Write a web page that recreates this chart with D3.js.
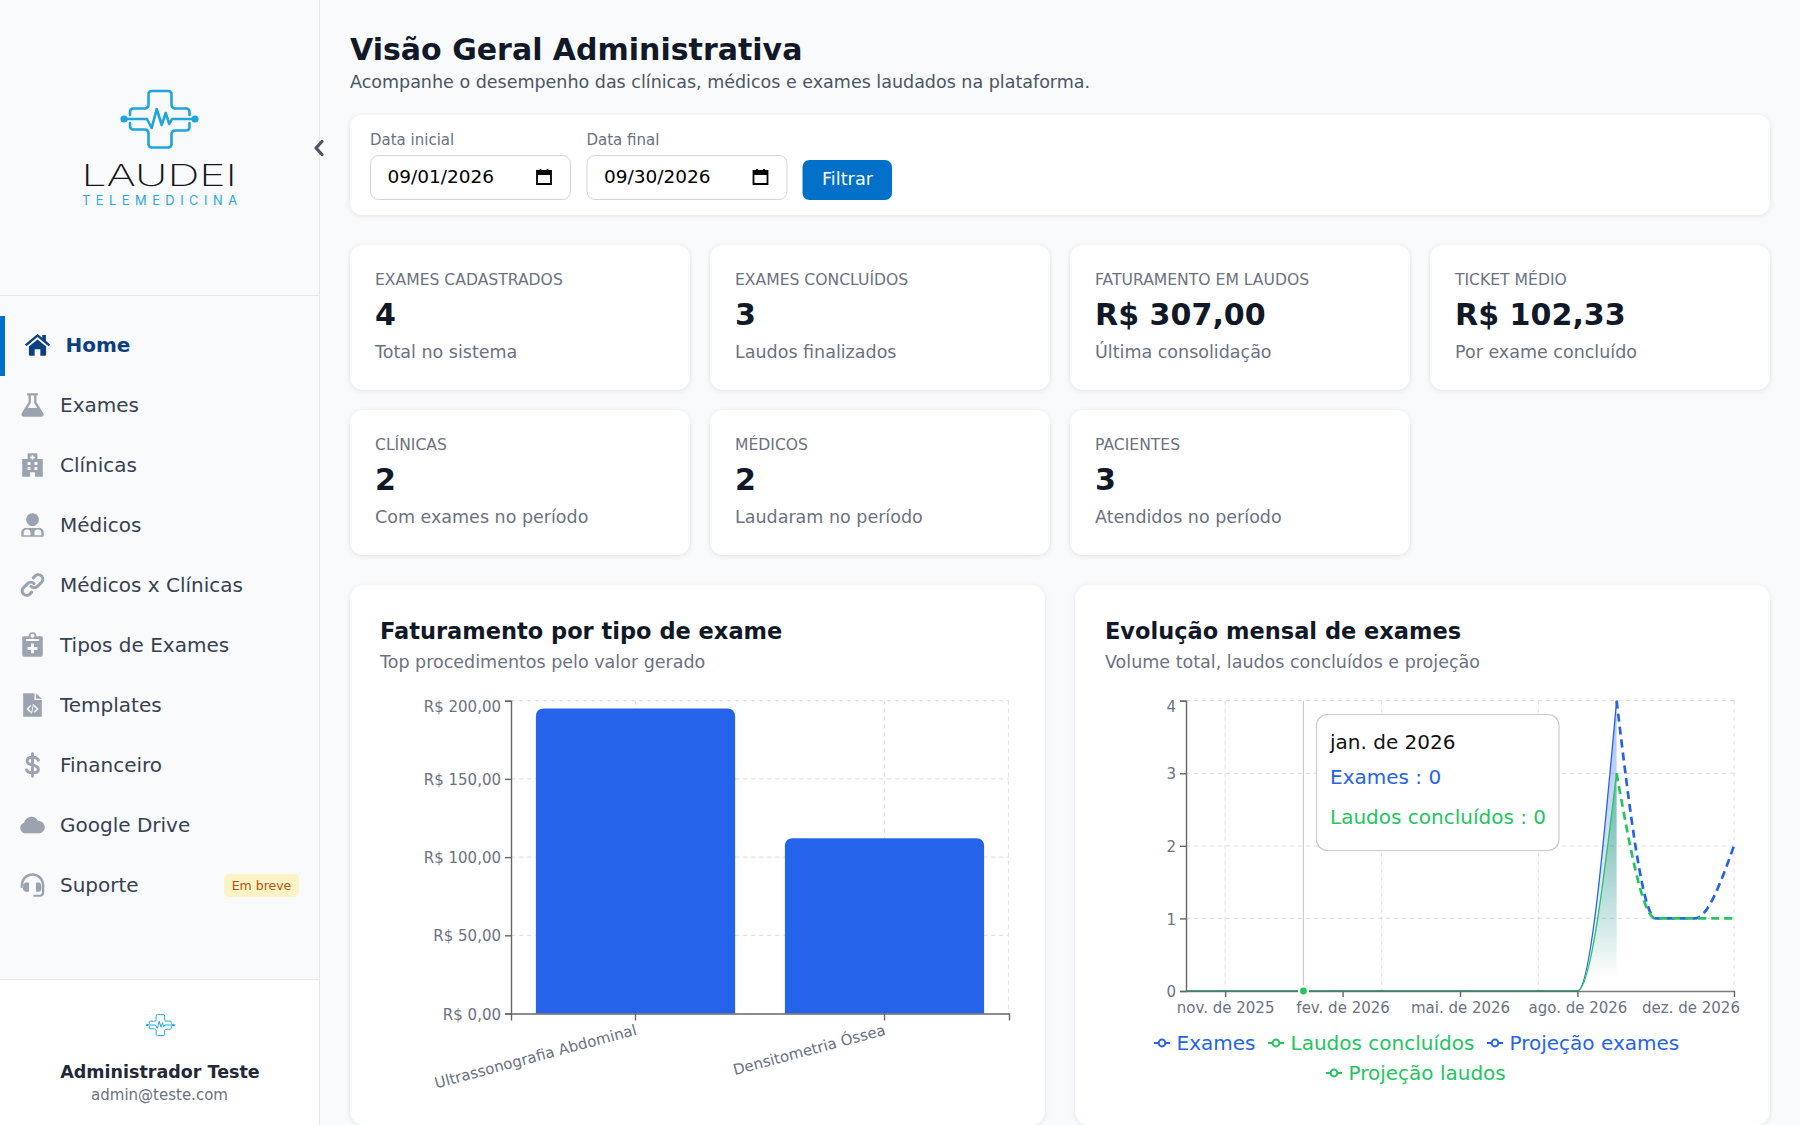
<!DOCTYPE html>
<html lang="pt-BR">
<head>
<meta charset="utf-8">
<title>Visão Geral Administrativa</title>
<script src="https://cdn.jsdelivr.net/npm/d3@7/dist/d3.min.js"></script>
<style>
html,body{margin:0;padding:0;background:#f8fafc;overflow:hidden}
svg{display:block;font-family:"DejaVu Sans",sans-serif}
.card{fill:#fff;filter:drop-shadow(0 1.5px 2.5px rgba(15,23,42,.10))}
</style>
</head>
<body>
<svg id="page" width="1800" height="1125" viewBox="0 0 1800 1125"></svg>
<script>
// ---- data ----
const navLabels = ["Home","Exames","Clínicas","Médicos","Médicos x Clínicas","Tipos de Exames","Templates","Financeiro","Google Drive","Suporte"];
const navIcons  = ["home","flask","hospital","doctor","link","clipboard","file","dollar","cloud","headset"];
const kpiLabels = ["EXAMES CADASTRADOS","EXAMES CONCLUÍDOS","FATURAMENTO EM LAUDOS","TICKET MÉDIO","CLÍNICAS","MÉDICOS","PACIENTES"];
const kpiValues = ["4","3","R$ 307,00","R$ 102,33","2","2","3"];
const kpiNotes  = ["Total no sistema","Laudos finalizados","Última consolidação","Por exame concluído","Com exames no período","Laudaram no período","Atendidos no período"];

const examTypes  = ["Ultrassonografia Abdominal","Densitometria Óssea"];
const examRevenue = [195,112];
const revenueTicks = [0,50,100,150,200];

const months = ["out. de 2025","nov. de 2025","dez. de 2025","jan. de 2026","fev. de 2026","mar. de 2026","abr. de 2026","mai. de 2026","jun. de 2026","jul. de 2026","ago. de 2026","set. de 2026","out. de 2026","nov. de 2026","dez. de 2026"];
const monthTicks = ["nov. de 2025","fev. de 2026","mai. de 2026","ago. de 2026","dez. de 2026"];
const monthGrid  = ["nov. de 2025","mar. de 2026","jul. de 2026","dez. de 2026"];
const exames      = [0,0,0,0,0,0,0,0,0,0,0,4,null,null,null];
const laudos      = [0,0,0,0,0,0,0,0,0,0,0,3,null,null,null];
const projExames  = [null,null,null,null,null,null,null,null,null,null,null,4,1,1,2];
const projLaudos  = [null,null,null,null,null,null,null,null,null,null,null,3,1,1,1];
const countTicks = [0,1,2,3,4];
const activeMonth = "jan. de 2026";

const BLUE="#2563eb", GREEN="#22c55e", INK="#111827", MUTED="#6b7280", GRID="#dfe2e7", AXIS="#666", BRAND="#0070c9", CYAN="#1fa5d8";

const svg = d3.select("#page");
const defs = svg.append("defs");
function txt(p,s,x,y,size,fill,opt={}){
  return p.append("text").attr("x",x).attr("y",y).attr("font-size",size).attr("fill",fill)
    .attr("font-weight",opt.weight||null).attr("text-anchor",opt.anchor||null).text(s);
}

// ---- sidebar ----
svg.append("rect").attr("width",1800).attr("height",1125).attr("fill","#f8fafc");
svg.append("rect").attr("x",0).attr("y",979).attr("width",320).attr("height",146).attr("fill","#fff");
svg.append("line").attr("x1",319.5).attr("x2",319.5).attr("y1",0).attr("y2",1125).attr("stroke","#e5e7eb");
svg.append("line").attr("x1",0).attr("x2",320).attr("y1",295.5).attr("y2",295.5).attr("stroke","#e5e7eb");
svg.append("line").attr("x1",0).attr("x2",320).attr("y1",979.5).attr("y2",979.5).attr("stroke","#e5e7eb");

function logoMark(p){
  const g=p.append("g").attr("fill","none").attr("stroke",CYAN).attr("stroke-width",2.6).attr("stroke-linejoin","round").attr("stroke-linecap","round");
  g.append("path").attr("d","M130 115 v-3 q0-3.5 3.5-3.5 h11 q4 0 4-4 V94.500 q0-3.5 3.5-3.5 h16 q3.5 0 3.5 3.5 V104.500 q0 4 4 4 h10.500 q3.500 0 3.500 3.500 v3");
  g.append("path").attr("d","M130 123 v3 q0 3.500 3.500 3.500 h11 q4 0 4 4 V144 q0 3.500 3.500 3.500 h16 q3.500 0 3.500-3.500 V134.500 q0-4 4-4 h10.500 q3.500 0 3.500-3.500 v-4");
  g.append("path").attr("d","M124 119 H147 L151.700 128 L156.700 109 L161.700 125 L165.700 113 L169.300 124 L172 119 H195");
  g.append("circle").attr("cx",124).attr("cy",119).attr("r",2.3).attr("fill",CYAN);
  g.append("circle").attr("cx",195).attr("cy",119).attr("r",2.3).attr("fill",CYAN);
  return g;
}
logoMark(svg);
txt(svg,"LAUDEI",81.5,186,29.5,"#15151a",{}).attr("font-family","Inter").attr("font-weight",250).attr("textLength",155.5).attr("lengthAdjust","spacingAndGlyphs");
txt(svg,"TELEMEDICINA",82,205,12.8,"#2aa8dc",{}).attr("font-family","Inter").attr("font-weight",400).attr("textLength",155);
svg.append("path").attr("d","M322 141.500 L316 148 L322 154.500").attr("fill","none").attr("stroke","#4b5563").attr("stroke-width",3.2).attr("stroke-linecap","round").attr("stroke-linejoin","round");

const iconPaths = {
  home:{d:"M0 11.500 L12 1.500 L16.500 5.200 V2.500 H20 V8 L24 11.500 L22.600 13.200 L12 4.500 L1.400 13.200Z M3.800 13.500 L12 6.800 L20.200 13.500 V21 Q20.200 22.300 19 22.300 H14.700 V16 H9.300 V22.300 H5 Q3.800 22.300 3.800 21Z"},
  flask:{d:"M6.500 0 H17.500 V2.400 H16 V9 L23 20.500 C24 22.500 22.800 24 20.700 24 H3.300 C1.200 24 0 22.500 1 20.500 L8 9 V2.400 H6.500Z M10.300 2.400 V9.700 L7.200 15 H16.800 L13.700 9.700 V2.400Z"},
  hospital:{d:"M1.500 6 H7 V1 Q7 0 8 0 H16 Q17 0 17 1 V6 H22.500 V24 H14.500 V19.500 H9.500 V24 H1.500Z M11 2 V3.500 H9.500 V5 H11 V6.500 H13 V5 H14.500 V3.500 H13 V2Z M7 9 V12 H10 V9Z M14 9 V12 H17 V9Z M7 14 V17 H10 V14Z M14 14 V17 H17 V14Z"},
  doctor:{d:"M12 0 A6.500 6.500 0 1 1 11.990 0Z M5 15 H19 C22 15 23.500 17.500 23.500 20 V23 Q23.500 24 22.500 24 H1.500 Q0.500 24 0.500 23 V20 C0.500 17.500 2 15 5 15Z M3 22.500 H10 V20 A3.500 3.500 0 0 0 3 20Z M14 22.500 H21 V20 A3.500 3.500 0 0 0 14 20Z"},
  link:{stroke:"M10.500 13.500 a4.600 4.600 0 0 0 6.500 0 l4.300 -4.300 a4.600 4.600 0 0 0 -6.500 -6.500 l-2 2 M13.500 10.500 a4.600 4.600 0 0 0 -6.500 0 l-4.300 4.300 a4.600 4.600 0 0 0 6.500 6.500 l2 -2"},
  clipboard:{d:"M3 3 H8 A4 4 0 0 1 16 3 H21 Q22.500 3 22.500 4.500 V22 Q22.500 24 20.500 24 H3.500 Q1.500 24 1.500 22 V4.500 Q1.500 3 3 3Z M10 2.500 A2 2 0 0 0 14 2.500 A2 2 0 0 0 10 2.500Z M5.500 6 V8 H18.500 V6Z M10.500 10.500 V14 H7 V17 H10.500 V20.500 H13.500 V17 H17 V14 H13.500 V10.500Z"},
  file:{d:"M2.500 0 H14 V7 H21.500 V24 H2.500Z M15.500 0 L21.500 5.500 H15.500Z M9.800 12 L5.800 16 L9.800 20 L10.800 19 L7.800 16 L10.800 13Z M14.200 12 L13.200 13 L16.200 16 L13.200 19 L14.200 20 L18.200 16Z M12.500 11 L10.500 21 H11.500 L13.500 11Z"},
  dollar:{stroke:"M18 7 C17 4.500 15 4 12 4 C8.500 4 6.500 5.500 6.500 8 C6.500 14 18 10 18 16.500 C18 19 15.500 20 12 20 C9 20 7 19.500 6 17 M12 0.500 V23.500"},
  cloud:{d:"M5.500 20.500 C1.800 20.500 -0.500 18 -0.500 15 C-0.500 12.200 1.200 10.200 3.500 9.700 C4 6.200 7.500 3.500 11 3.500 C14.200 3.500 16.700 5.500 17.800 8 C21.500 8 24.500 10.800 24.500 14.300 C24.500 17.800 21.800 20.500 18.500 20.500Z"},
  headset:{d:"M12 0 C5 0 0 5.500 0 12 V15 H2.500 V12 C2.500 7 6.800 2.500 12 2.500 C17.200 2.500 21.500 7 21.500 12 V20 C21.500 21.500 20.500 22 19 22 H13 V24 H19.500 C22 24 24 22.500 24 20 V12 C24 5.500 19 0 12 0Z M5.500 9.500 H7.500 Q8.500 9.500 8.500 10.500 V18 Q8.500 19 7.500 19 H5.500 C3.500 19 2 17 2 14.500 C2 12 3.500 9.500 5.500 9.500Z M16.500 9.500 H18.500 C20.500 9.500 21 12 21 14.500 C21 17 20.500 19 18.500 19 H16.500 Q15.500 19 15.500 18 V10.500 Q15.500 9.500 16.500 9.500Z"}
};
const navY = d3.scalePoint().domain(navLabels).range([345,885]);
svg.append("rect").attr("x",0).attr("y",316).attr("width",5).attr("height",60).attr("fill",BRAND);
const navG = svg.append("g").selectAll("g").data(navLabels).join("g").attr("transform",d=>`translate(0,${navY(d)})`);
navG.each(function(d,i){
  const g=d3.select(this), ic=iconPaths[navIcons[i]], active=i===0;
  const col=active?"#0c3f80":"#9ca3af";
  const w=g.append("g").attr("transform",`translate(${active?37.5:32.5},0) scale(${active?1.05:0.98}) translate(-12,-12)`);
  if(ic.d) w.append("path").attr("d",ic.d).attr("fill",col).attr("fill-rule","evenodd");
  if(ic.stroke) w.append("path").attr("d",ic.stroke).attr("fill","none").attr("stroke",col).attr("stroke-width",navIcons[i]==="link"?3.2:3).attr("stroke-linecap","round");
  txt(g,d,active?65.5:60,7,20,active?"#0c3f80":"#374151",{weight:active?700:400});
});
svg.append("rect").attr("x",224).attr("y",874).attr("width",75).attr("height",23).attr("rx",5).attr("fill","#fef3c7");
txt(svg,"Em breve",261.500,890,12.500,"#b45309",{anchor:"middle"});

svg.append("g").attr("transform","translate(160,1025) scale(.37) translate(-159,-119)").call(logoMark);
txt(svg,"Administrador Teste",160,1077.500,17.500,"#1f2937",{weight:700,anchor:"middle"});
txt(svg,"admin@teste.com",159.500,1100,15,MUTED,{anchor:"middle"});

// ---- header + filter ----
txt(svg,"Visão Geral Administrativa",350,60,30,"#111827",{weight:700});
txt(svg,"Acompanhe o desempenho das clínicas, médicos e exames laudados na plataforma.",350,87.500,17.500,"#4b5563");
svg.append("rect").attr("class","card").attr("x",350).attr("y",115).attr("width",1420).attr("height",100).attr("rx",12);
const dateLabels=["Data inicial","Data final"], dateValues=["09/01/2026","09/30/2026"];
const dateX=d3.scaleOrdinal().domain(dateLabels).range([370,586.500]);
dateLabels.forEach((l,i)=>{
  const x=dateX(l);
  txt(svg,l,x,145,15,MUTED);
  svg.append("rect").attr("x",x+.5).attr("y",155.500).attr("width",200).attr("height",44).attr("rx",8).attr("fill","#fff").attr("stroke","#d1d5db");
  txt(svg,dateValues[i],x+17.5,182.500,18.500,"#000");
  const c=svg.append("g").attr("transform",`translate(${x+167},169)`);
  c.append("path").attr("d","M0 2 H14 V15 H0Z").attr("fill","none").attr("stroke","#000").attr("stroke-width",1.8);
  c.append("rect").attr("x",0).attr("y",1.500).attr("width",14).attr("height",4.500).attr("fill","#000");
  c.append("path").attr("d","M3.500 0 V3 M10.500 0 V3").attr("stroke","#000").attr("stroke-width",1.8);
});
svg.append("rect").attr("x",802.5).attr("y",160).attr("width",89.5).attr("height",40).attr("rx",7).attr("fill",BRAND);
txt(svg,"Filtrar",847.500,185,17.700,"#fff",{anchor:"middle"});

// ---- KPI cards ----
const kpiG=svg.append("g").selectAll("g").data(kpiLabels).join("g")
  .attr("transform",(d,i)=>`translate(${350+(i%4)*360},${245+Math.floor(i/4)*165})`);
kpiG.append("rect").attr("class","card").attr("width",340).attr("height",145).attr("rx",13);
kpiG.append("text").attr("x",25).attr("y",40).attr("font-size",15.600).attr("fill",MUTED).text(d=>d);
kpiG.append("text").attr("x",25).attr("y",80).attr("font-size",30.100).attr("font-weight",700).attr("fill","#111827").text((d,i)=>kpiValues[i]);
kpiG.append("text").attr("x",25).attr("y",112.500).attr("font-size",17.500).attr("fill",MUTED).text((d,i)=>kpiNotes[i]);

// ---- chart cards ----
const chartTitles=["Faturamento por tipo de exame","Evolução mensal de exames"], chartSubs=["Top procedimentos pelo valor gerado","Volume total, laudos concluídos e projeção"];
[350,1075].forEach((x,i)=>{
  svg.append("rect").attr("class","card").attr("x",x).attr("y",585).attr("width",695).attr("height",540).attr("rx",14);
  txt(svg,chartTitles[i],x+30,639,22.500,"#111827",{weight:700});
  txt(svg,chartSubs[i],x+30,667.500,17.500,MUTED);
});

function styleAxis(g,size=15){
  g.selectAll(".domain,.tick line").attr("stroke",AXIS).attr("stroke-width",1.4);
  g.selectAll("text").attr("fill",MUTED).attr("font-size",size).attr("font-family","DejaVu Sans");
}
const gridDash="4 4";

// ---- bar chart ----
{
  const x=d3.scaleBand().domain(examTypes).range([511,1009]).paddingInner(.2).paddingOuter(.1);
  const y=d3.scaleLinear().domain([0,200]).range([1013.500,700.700]);
  const grid=svg.append("g").attr("stroke",GRID).attr("stroke-dasharray",gridDash).attr("fill","none").attr("stroke-width",1.2);
  grid.selectAll(".h").data(revenueTicks.slice(1)).join("line").attr("x1",511).attr("x2",1009).attr("y1",d=>y(d)).attr("y2",d=>y(d));
  grid.selectAll(".v").data(examTypes).join("line").attr("x1",d=>x(d)+x.bandwidth()/2).attr("x2",d=>x(d)+x.bandwidth()/2).attr("y1",700.700).attr("y2",1013.500);
  grid.append("line").attr("x1",1008.500).attr("x2",1008.500).attr("y1",700.700).attr("y2",1013.500);
  svg.append("g").selectAll("path").data(examTypes).join("path").attr("fill",BLUE)
    .attr("d",(d,i)=>{const X=x(d),W=x.bandwidth(),T=y(examRevenue[i]),B=y(0),r=8;
      return `M${X} ${B}V${T+r}Q${X} ${T} ${X+r} ${T}H${X+W-r}Q${X+W} ${T} ${X+W} ${T+r}V${B}Z`;});
  const ax=svg.append("g").attr("transform","translate(511,0)").call(d3.axisLeft(y).tickValues(revenueTicks).tickSizeOuter(0).tickSize(6).tickPadding(4).tickFormat(d=>"R$ "+d3.format(".2f")(d).replace(".",",")));
  styleAxis(ax);
  ax.selectAll(".tick text").attr("y",.8);
  ax.selectAll(".tick").filter(d=>d===200).select("text").attr("dy","0.32em").attr("y",6);
  const bx=svg.append("g").attr("transform","translate(0,1013.500)").call(d3.axisBottom(x).tickSizeOuter(0).tickSize(7));
  styleAxis(bx);
  bx.selectAll(".tick text").attr("text-anchor","end").attr("transform","translate(2,21) rotate(-15)").attr("y",0).attr("dy",0);
}

// ---- line chart ----
{
  const x=d3.scalePoint().domain(months).range([1186,1734]);
  const y=d3.scaleLinear().domain([0,4]).range([991,700.700]);
  const grid=svg.append("g").attr("stroke",GRID).attr("stroke-dasharray",gridDash).attr("fill","none").attr("stroke-width",1.2);
  grid.selectAll(".h").data(countTicks.slice(1)).join("line").attr("x1",1186).attr("x2",1734).attr("y1",d=>y(d)).attr("y2",d=>y(d));
  grid.selectAll(".v").data(monthGrid).join("line").attr("x1",d=>x(d)).attr("x2",d=>x(d)).attr("y1",700.700).attr("y2",991);

  const grad=(id,col,a)=>{const g=defs.append("linearGradient").attr("id",id).attr("x1",0).attr("x2",0).attr("y1",0).attr("y2",1);
    g.append("stop").attr("offset","5%").attr("stop-color",col).attr("stop-opacity",a);
    g.append("stop").attr("offset","95%").attr("stop-color",col).attr("stop-opacity",0);};
  grad("gradBlue",BLUE,.38); grad("gradGreen","#0f9f55",.46);

  const line=d3.line().defined(d=>d!=null).x((d,i)=>x(months[i])).y(d=>y(d)).curve(d3.curveMonotoneX);
  const area=d3.area().defined(d=>d!=null).x((d,i)=>x(months[i])).y0(y(0)).y1(d=>y(d)).curve(d3.curveMonotoneX);

  const ax=svg.append("g").attr("transform","translate(1186,0)").call(d3.axisLeft(y).tickValues(countTicks).tickFormat(d3.format("d")).tickSizeOuter(0).tickSize(6).tickPadding(4));
  styleAxis(ax);
  ax.selectAll(".tick text").attr("y",.8);
  ax.selectAll(".tick").filter(d=>d===4).select("text").attr("y",6);

  svg.append("line").attr("x1",x(activeMonth)).attr("x2",x(activeMonth)).attr("y1",700.700).attr("y2",991).attr("stroke","#ccc").attr("stroke-width",1.2);

  const plot=svg.append("g");
  plot.append("path").attr("d",area(exames)).attr("fill","url(#gradBlue)");
  plot.append("path").attr("d",line(exames)).attr("fill","none").attr("stroke",BLUE).attr("stroke-width",1.3);
  plot.append("path").attr("d",area(laudos)).attr("fill","url(#gradGreen)");
  plot.append("path").attr("d",line(laudos)).attr("fill","none").attr("stroke",GREEN).attr("stroke-width",1.3);
  plot.append("path").attr("d",line(projExames)).attr("fill","none").attr("stroke",BLUE).attr("stroke-width",2.7).attr("stroke-dasharray","8 5");
  plot.append("path").attr("d",line(projLaudos)).attr("fill","none").attr("stroke",GREEN).attr("stroke-width",2.7).attr("stroke-dasharray","8 5");

  const bx=svg.append("g").attr("transform","translate(0,991)").call(d3.axisBottom(x).tickValues(monthTicks).tickSizeOuter(0).tickSize(6).tickPadding(5));
  styleAxis(bx);
  bx.select(".domain").attr("d",`M1186,0.5H1734`).attr("stroke-opacity",.85);
  bx.selectAll(".tick").filter(d=>d==="dez. de 2026").select("text").attr("x",-43.500);

  const ai=months.indexOf(activeMonth);
  [[exames,BLUE],[laudos,GREEN]].forEach(([s,c])=>svg.append("circle").attr("cx",x(activeMonth)).attr("cy",y(s[ai])).attr("r",4.400).attr("fill",c).attr("stroke","#fff").attr("stroke-width",2));

  // tooltip
  const tip=svg.append("g");
  tip.append("rect").attr("x",1316.500).attr("y",714.500).attr("width",242.500).attr("height",136).attr("rx",11).attr("fill","#fff").attr("stroke","#ccc").attr("stroke-width",1.2);
  txt(tip,activeMonth,1330,749,20,"#111");
  txt(tip,"Exames : "+exames[ai],1330,784,20,BLUE);
  txt(tip,"Laudos concluídos : "+laudos[ai],1330,824,20,GREEN);

  // legend
  const legendNames=["Exames","Laudos concluídos","Projeção exames","Projeção laudos"];
  const legendColors=[BLUE,GREEN,BLUE,GREEN];
  const legendX=[1154,1268,1487,1326], legendY=[1043,1043,1043,1073];
  const lg=svg.append("g").selectAll("g").data(legendNames).join("g").attr("transform",(d,i)=>`translate(${legendX[i]},${legendY[i]})`);
  lg.append("line").attr("x1",0).attr("x2",16).attr("stroke",(d,i)=>legendColors[i]).attr("stroke-width",2);
  lg.append("circle").attr("cx",8).attr("r",3.400).attr("fill","#fff").attr("stroke",(d,i)=>legendColors[i]).attr("stroke-width",2);
  lg.append("text").attr("x",22.5).attr("y",7).attr("font-size",20).attr("fill",(d,i)=>legendColors[i]).text(d=>d);
}
</script>
</body>
</html>
